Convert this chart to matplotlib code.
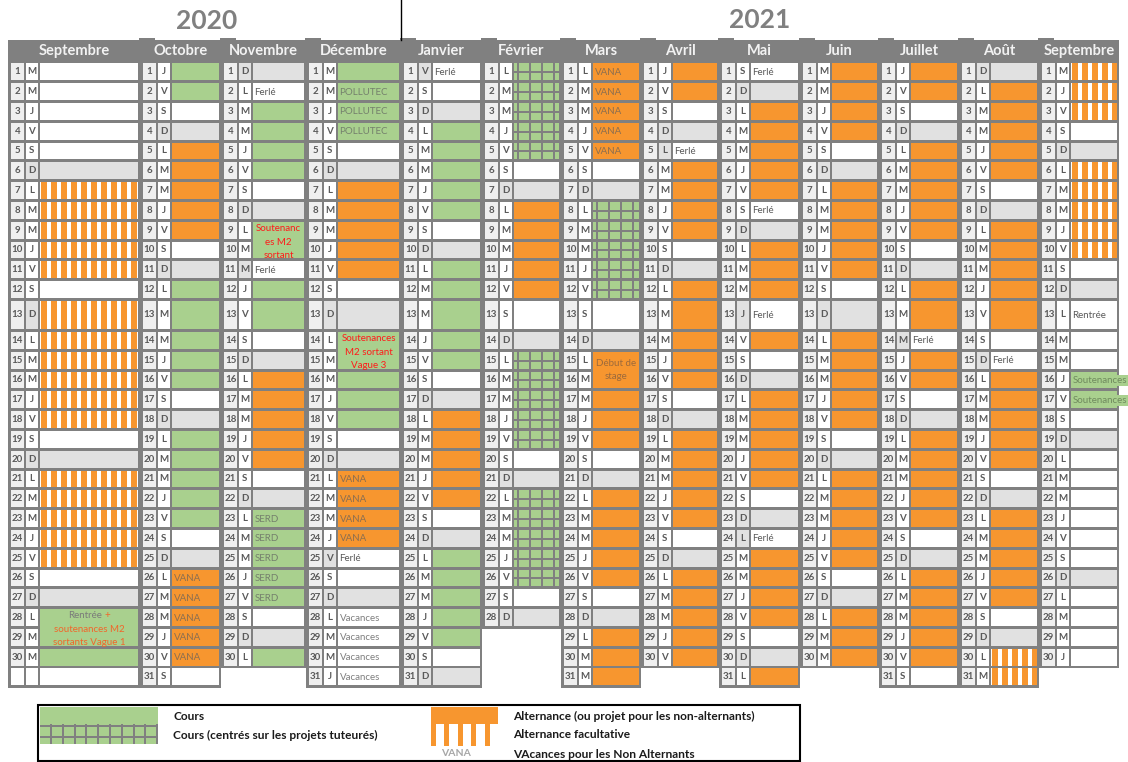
import datetime
import calendar
import matplotlib
matplotlib.use("Agg")
import matplotlib.pyplot as plt
from matplotlib.patches import Rectangle

plt.rcParams['font.family'] = ['Lato', 'DejaVu Sans']

# ------------------------------------------------------------------ data
year_labels = ["2020", "2021"]
month_names = ["Septembre", "Octobre", "Novembre", "Décembre", "Janvier", "Février",
               "Mars", "Avril", "Mai", "Juin", "Juillet", "Août", "Septembre"]
month_years = [2020, 2020, 2020, 2020, 2021, 2021, 2021, 2021, 2021, 2021, 2021, 2021, 2021]
month_numbers = [9, 10, 11, 12, 1, 2, 3, 4, 5, 6, 7, 8, 9]
weekday_letters = ["L", "M", "M", "J", "V", "S", "D"]

# W = libre, G = dimanche, C = cours, P = cours (projets tuteurés),
# A = alternance, F = alternance facultative
day_codes = [
    "WWWWWGFFFFFWFFFFFFWGFFFFFWGCCC",
    "CCWGAAAAAWGCCCCCWGCCCCCWGAAAAAW",
    "GWCCCCWGCCWCCWGAAAAAWGCCCCCWGC",
    "CCCCWGAAAAAWGCCCCCWGAAAAWWGWWWW",
    "WWGCCCCCWGCCCCCWGAAAAAWGCCCCCWG",
    "PPPPPWGAAAAAWGPPPPPWGPPPPPWG",
    "AAAAAWGPPPPPWGAAAAAWGAAAAAWGAAA",
    "AAWGWAAAAWGAAAAAWGAAAAAWGAAAAA",
    "WGAAAAAWGAAAWAWGAAAAAWGWAAAAWGA",
    "AAAAWGAAAAAWGAAAAAWGAAAAAWGAAA",
    "AAWGAAAAAWGAAWAAWGAAAAAWGAAAAAW",
    "GAAAAAWGAAAAAWWAAAAAWGAAAAAWGFF",
    "FFFWGFFFFFWGWWWCCWGWWWWWWGWWWW",
]
blank_row_months = [0]  # month showing an empty 31st row

holiday_letter_grey = [(2, 11), (3, 25), (4, 1), (7, 5), (8, 13), (8, 24), (10, 14)]

# (month index, day, label)
cell_labels = (
    [(1, d, "VANA") for d in range(26, 31)]
    + [(2, 2, "Ferlé"), (2, 11, "Ferlé")]
    + [(2, d, "SERD") for d in range(23, 28)]
    + [(3, d, "POLLUTEC") for d in range(2, 5)]
    + [(3, d, "VANA") for d in range(21, 25)]
    + [(3, 25, "Ferlé")]
    + [(3, d, "Vacances") for d in range(28, 32)]
    + [(4, 1, "Ferlé")]
    + [(6, d, "VANA") for d in range(1, 6)]
    + [(7, 5, "Ferlé"), (8, 1, "Ferlé"), (8, 8, "Ferlé"), (8, 13, "Ferlé"),
       (8, 24, "Ferlé"), (10, 14, "Ferlé"), (11, 15, "Ferlé"), (12, 13, "Rentrée")]
    + [(12, 16, "Soutenances"), (12, 17, "Soutenances")]
)

# merged cells: (month index, first day, last day, lines, colour)
merged_cells = [
    (0, 28, 29, ["", "soutenances M2", "sortants Vague 1"], "#f2662a"),
    (2, 9, 10, ["Soutenanc", "es M2", "sortant"], "#ff1a1a"),
    (3, 14, 15, ["Soutenances", "M2 sortant", "Vague 3"], "#ff1a1a"),
    (6, 15, 16, ["Début de", "stage"], "#9c6a3c"),
]

legend_items_left = ["Cours", "Cours (centrés sur les projets tuteurés)"]
legend_items_right = ["Alternance (ou projet pour les non-alternants)",
                      "Alternance facultative", "VAcances pour les Non Alternants"]

# ------------------------------------------------------------------ style
GREY = "#808080"
LIGHT = "#e1e1e1"
DAYBG = "#efefef"
WHITE = "#ffffff"
GREEN = "#a9d08e"
ORANGE = "#f7962f"
TXT = "#595959"

month_left = [8, 140, 221, 306, 401, 482, 561, 641, 719, 800, 879, 959, 1039, 1119]

row_pitch = [19.8] * 31
row_pitch[12] = 31.0
row_gap = 2.9
row_top = []
y = 63.3
for p in row_pitch:
    row_top.append(y)
    y += p


def row_bottom(i):
    return row_top[i] + row_pitch[i] - row_gap


fig = plt.figure(figsize=(11.28, 7.62), dpi=100)
ax = fig.add_axes([0, 0, 1, 1])
ax.set_xlim(0, 1128)
ax.set_ylim(762, 0)
ax.axis("off")


def rect(x, y, w, h, color, z=1, **kw):
    r = Rectangle((x, y), w, h, facecolor=color, edgecolor="none", zorder=z, **kw)
    ax.add_patch(r)
    return r


def striped(x, y, w, h, period=10.0, sw=5.6):
    rect(x, y, w, h, WHITE, 2)
    s = x + 1
    while s < x + w:
        rect(s, y, min(sw, x + w - s), h, ORANGE, 3)
        s += period


def projet(x, y, w, h, period=12.3):
    rect(x, y, w, h, GREEN, 2)
    s = x + 2.5
    while s < x + w:
        rect(s, y, min(2.0, x + w - s), h, GREY, 3)
        s += period
    rect(x, y + h / 2 - 0.5, w, 2.0, GREY, 3)


fill_of = {"W": WHITE, "G": LIGHT, "C": GREEN, "A": ORANGE}

# years
ax.text(207, 21, year_labels[0], ha="center", va="center", fontsize=19,
        fontweight="bold", color="#808080")
ax.text(760, 20, year_labels[1], ha="center", va="center", fontsize=19,
        fontweight="bold", color="#808080")
ax.plot([401, 401], [0, 40], color="black", lw=1.0, zorder=5)

merged_lookup = {}
for mi, d0, d1, lines, col in merged_cells:
    for d in range(d0, d1 + 1):
        merged_lookup[(mi, d)] = (d0, d1)

for mi, name in enumerate(month_names):
    L, R = month_left[mi], month_left[mi + 1]
    codes = day_codes[mi]
    ndays = calendar.monthrange(month_years[mi], month_numbers[mi])[1]
    nrows = 31 if mi in blank_row_months else ndays
    # grey block
    rect(L, 40, R - L, row_bottom(nrows - 1) + 2.5 - 40, GREY, 0)
    if mi > 0:
        rect(L - 1, 37.5, 16, 3, GREY, 0)
    ax.text((L + R) / 2, 51, name, ha="center", va="center", fontsize=10.5,
            fontweight="bold", color="#f2f2f2", zorder=6)
    xd, wd = L + 3, 13
    xl, wl = L + 17.5, 12.5
    xc, wc = L + 32, R - 2 - (L + 32)
    for r in range(nrows):
        yt = row_top[r]
        h = row_bottom(r) - yt
        if r >= ndays:
            rect(xd, yt, wd, h, WHITE, 1)
            rect(xl, yt, wl, h, WHITE, 1)
            rect(xc, yt, wc, h, WHITE, 1)
            continue
        day = r + 1
        wk = datetime.date(month_years[mi], month_numbers[mi], day).weekday()
        letter = weekday_letters[wk]
        rect(xd, yt, wd, h, DAYBG, 1)
        lg = (wk == 6) or ((mi, day) in holiday_letter_grey)
        rect(xl, yt, wl, h, LIGHT if lg else WHITE, 1)
        ax.text(xd + wd / 2, yt + h / 2, str(day), ha="center", va="center",
                fontsize=7, fontweight="bold", color=TXT, zorder=6)
        ax.text(xl + wl / 2, yt + h / 2, letter, ha="center", va="center",
                fontsize=7, fontweight="bold", color=TXT, zorder=6)
        code = codes[r]
        if (mi, day) in merged_lookup:
            d0, d1 = merged_lookup[(mi, day)]
            if day != d0:
                continue
            hh = row_bottom(d1 - 1) - yt
        else:
            hh = h
        if code == "F":
            striped(xc, yt, wc, hh)
        elif code == "P":
            projet(xc, yt, wc, hh)
        else:
            rect(xc, yt, wc, hh, fill_of[code], 2)

# small labels
for mi, day, label in cell_labels:
    L, R = month_left[mi], month_left[mi + 1]
    xc = L + 32
    r = day - 1
    yc = row_top[r] + (row_bottom(r) - row_top[r]) / 2
    if label in ("VANA", "SERD", "POLLUTEC"):
        col, alpha = "#5e5e5e", 0.7
    elif label == "Vacances":
        col, alpha = "#7f7f7f", 1.0
    else:
        col, alpha = TXT, 1.0
    kw = {}
    if label == "Soutenances":
        kw = dict(bbox=dict(facecolor=GREEN, edgecolor="none", pad=0.6))
        col, alpha = "#6f8a5e", 1.0
    ax.text(xc + 1.5, yc + 0.5, label, ha="left", va="center", fontsize=7,
            color=col, alpha=alpha, zorder=7, **kw)

# merged labels
for mi, d0, d1, lines, col in merged_cells:
    L, R = month_left[mi], month_left[mi + 1]
    xc, wc = L + 32, R - 2 - (L + 32)
    yt = row_top[d0 - 1]
    yb = row_bottom(d1 - 1)
    clip = Rectangle((xc, yt), wc, yb - yt, transform=ax.transData)
    n = len(lines)
    step = 13.5
    start = (yt + yb) / 2 - step * (n - 1) / 2 + (2 if n == 3 else 0)
    for k, line in enumerate(lines):
        t = ax.text(xc + wc / 2, start + k * step, line, ha="center", va="center",
                    fontsize=7, color=col, zorder=7)
        t.set_clip_path(clip)
    if mi == 0:
        ax.text(xc + wc / 2 - 4, start, "Rentrée", ha="center", va="center",
                fontsize=7, color="#7a7a7a", zorder=7)
        ax.text(xc + wc / 2 + 18, start, "+", ha="center", va="center",
                fontsize=7, color=col, zorder=7)

# ------------------------------------------------------------------ legend
ax.add_patch(Rectangle((38, 705), 762, 56, facecolor="none", edgecolor="black",
                       lw=1.5, zorder=8))
rect(40, 707, 118, 17, GREEN, 2)
rect(40, 724, 118, 20, GREEN, 2)
rect(40, 725, 118, 2, GREY, 3)
rect(40, 736, 118, 2, GREY, 3)
s = 50
while s < 158:
    rect(s, 724, 2, 20, GREY, 3)
    s += 11.8
rect(431, 707, 67, 17, ORANGE, 2)
s = 431
for k in range(5):
    rect(s + k * 13.4, 724, 5, 22, ORANGE, 2)
ax.text(456, 753, "VANA", ha="center", va="center", fontsize=7.5,
        fontweight="bold", color="#a6a6a6")
for k, t in enumerate(legend_items_left):
    ax.text(173, 716 + 19 * k, t, ha="left", va="center", fontsize=8.6,
            fontweight="bold", color="#1a1a1a")
for k, t in enumerate(legend_items_right):
    ax.text(513, 716 + 19 * k, t, ha="left", va="center", fontsize=8.6,
            fontweight="bold", color="#1a1a1a")

fig.savefig("out.png", dpi=100)
